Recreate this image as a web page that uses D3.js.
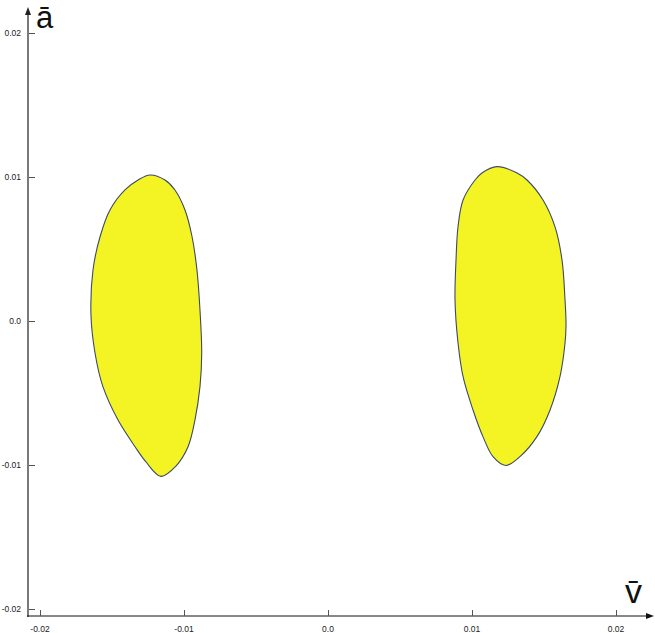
<!DOCTYPE html>
<html>
<head>
<meta charset="utf-8">
<script src="https://cdn.jsdelivr.net/npm/d3@7"></script>
<style>
html,body{margin:0;padding:0;background:#fff;}
svg{display:block;}
text{font-family:"Liberation Sans",Arial,sans-serif;}
</style>
</head>
<body>
<svg id="chart" width="655" height="633"></svg>
<script>
// Tick values
const xTicks = [-0.02, -0.01, 0.0, 0.01, 0.02];
const yTicks = [-0.02, -0.01, 0.0, 0.01, 0.02];
const xTickLabels = ["-0.02", "-0.01", "0.0", "0.01", "0.02"];
const yTickLabels = ["-0.02", "-0.01", "0.0", "0.01", "0.02"];
const xLabel = "v\u0304";
const yLabel = "\u0101";

// Boundary of left region [v, a]
const leftRegion = [
  [-0.01236, 0.01014], [-0.01132, 0.00979], [-0.01063, 0.00910], [-0.00993, 0.00771],
  [-0.00944, 0.00585], [-0.00910, 0.00354], [-0.00889, 0.00076], [-0.00877, -0.00222],
  [-0.00889, -0.00456], [-0.00924, -0.00688], [-0.00972, -0.00873], [-0.01056, -0.01007],
  [-0.01160, -0.01079], [-0.01264, -0.00979],
  [-0.01340, -0.00873], [-0.01458, -0.00688], [-0.01563, -0.00456], [-0.01618, -0.00222],
  [-0.01646, 0.00042], [-0.01632, 0.00354], [-0.01583, 0.00585], [-0.01514, 0.00771],
  [-0.01410, 0.00910], [-0.01319, 0.00979]
];
// Boundary of right region [v, a]
const rightRegion = [
  [0.01174, 0.01072], [0.01313, 0.01028], [0.01382, 0.00979], [0.01493, 0.00840],
  [0.01576, 0.00655], [0.01625, 0.00424], [0.01646, 0.00146], [0.01653, -0.00028],
  [0.01646, -0.00153], [0.01611, -0.00387], [0.01542, -0.00618], [0.01451, -0.00803],
  [0.01333, -0.00942], [0.01235, -0.01003], [0.01146, -0.00942], [0.01076, -0.00803],
  [0.01007, -0.00618], [0.00938, -0.00387],
  [0.00903, -0.00153], [0.00882, 0.00146], [0.00889, 0.00424], [0.00903, 0.00655],
  [0.00938, 0.00840], [0.01021, 0.00979], [0.01069, 0.01028]
];
const regions = [leftRegion, rightRegion];

const svg = d3.select("#chart");
const x = d3.scaleLinear().domain([-0.02, 0.02]).range([40, 616]);
const y = d3.scaleLinear().domain([-0.02, 0.02]).range([609, 33]);

const axisX = 28, axisY = 616;

// Regions
const line = d3.line().x(d => x(d[0])).y(d => y(d[1])).curve(d3.curveCatmullRomClosed.alpha(0.5));
svg.append("g").selectAll("path").data(regions).join("path")
  .attr("d", line)
  .attr("fill", "#f4f424")
  .attr("stroke", "#3b4a66")
  .attr("stroke-width", 1.1);

// Y axis (gray)
svg.append("line").attr("x1", axisX).attr("x2", axisX).attr("y1", 12).attr("y2", axisY + 1)
  .attr("stroke", "#7a7a7a").attr("stroke-width", 2);
svg.append("path").attr("d", `M${axisX},7 L${axisX-3},15 L${axisX+3},15 Z`).attr("fill", "#222");

// X axis (black)
svg.append("line").attr("x1", axisX - 1).attr("x2", 648).attr("y1", axisY).attr("y2", axisY)
  .attr("stroke", "#111").attr("stroke-width", 1);
svg.append("path").attr("d", `M654,${axisY} L646,${axisY-3} L646,${axisY+3} Z`).attr("fill", "#111");

// Y ticks
const yg = svg.append("g");
yg.selectAll("line").data(yTicks).join("line")
  .attr("x1", axisX + 1).attr("x2", axisX + 7)
  .attr("y1", d => Math.round(y(d)) + 0.5).attr("y2", d => Math.round(y(d)) + 0.5)
  .attr("stroke", "#555").attr("stroke-width", 1);
yg.selectAll("text").data(yTicks).join("text")
  .attr("x", 21).attr("y", d => y(d) + 3)
  .attr("text-anchor", "end").attr("font-size", 8.5).attr("fill", "#222")
  .text((d, i) => yTickLabels[i]);

// X ticks
const xg = svg.append("g");
xg.selectAll("line").data(xTicks).join("line")
  .attr("x1", d => Math.round(x(d)) + 0.5).attr("x2", d => Math.round(x(d)) + 0.5)
  .attr("y1", axisY - 6).attr("y2", axisY)
  .attr("stroke", "#555").attr("stroke-width", 1);
xg.selectAll("text").data(xTicks).join("text")
  .attr("x", d => x(d)).attr("y", 632)
  .attr("text-anchor", "middle").attr("font-size", 8.5).attr("fill", "#222")
  .text((d, i) => xTickLabels[i]);

// Axis labels
svg.append("text").attr("x", 36).attr("y", 28).attr("font-size", 31).attr("fill", "#111").text(yLabel);
svg.append("text").attr("x", 625).attr("y", 603).attr("font-size", 34).attr("fill", "#111").text(xLabel);
</script>
</body>
</html>
